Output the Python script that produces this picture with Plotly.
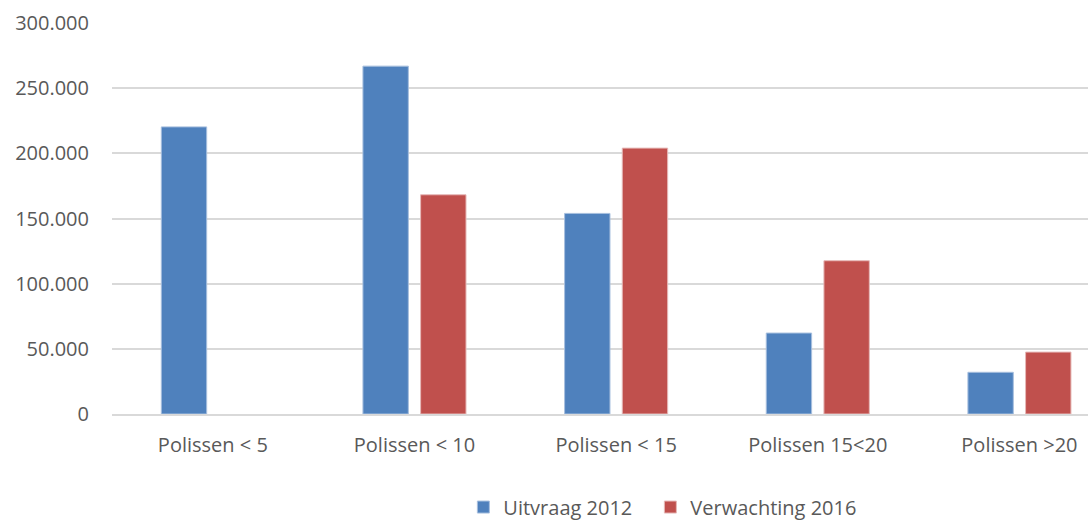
import plotly.graph_objects as go

categories = ["Polissen < 5", "Polissen < 10", "Polissen < 15", "Polissen 15<20", "Polissen >20"]
uitvraag_2012 = [220300, 266900, 153900, 62100, 32000]
verwachting_2016 = [None, 168200, 204000, 117600, 47500]
series_names = ["Uitvraag 2012", "Verwachting 2016"]
y_ticks = [0, 50000, 100000, 150000, 200000, 250000, 300000]

BLUE = "#4F81BD"
RED = "#C0504D"
TXT = "#595959"
FONT = "Open Sans, Liberation Sans, sans-serif"

fig = go.Figure()
fig.add_trace(go.Bar(x=categories, y=uitvraag_2012, name=series_names[0], legend="legend",
                     marker=dict(color=BLUE, line=dict(color="#A7BFDE", width=1))))
fig.add_trace(go.Bar(x=categories, y=verwachting_2016, name=series_names[1], legend="legend2",
                     marker=dict(color=RED, line=dict(color="#E6B9B8", width=1))))

leg_common = dict(orientation="h", y=-0.238, xanchor="left", yanchor="middle",
                  font=dict(size=20, color=TXT), itemwidth=30, bgcolor="rgba(0,0,0,0)")

fig.update_layout(
    width=1088, height=526,
    margin=dict(l=112, r=0, t=23, b=112, autoexpand=False),
    paper_bgcolor="white", plot_bgcolor="white",
    separators=",.",
    barmode="group", bargap=0.428, bargroupgap=0.213,
    font=dict(family=FONT, size=20, color=TXT),
    legend=dict(x=0.36, **leg_common),
    legend2=dict(x=0.5516, **leg_common),
    showlegend=True,
)
fig.update_xaxes(range=[-0.5, 4.34], showgrid=False, showline=True, linecolor="#D9D9D9",
                 linewidth=2, ticks="outside", ticklen=12, tickcolor="rgba(0,0,0,0)",
                 tickfont=dict(size=20, color=TXT), fixedrange=True, automargin=False)
fig.update_yaxes(range=[0, 300000], tickvals=y_ticks, tickformat=",d", showgrid=True,
                 gridcolor="#D9D9D9", gridwidth=2, zeroline=False, showline=False,
                 ticks="outside", ticklen=18, tickcolor="rgba(0,0,0,0)",
                 tickfont=dict(size=20, color=TXT), fixedrange=True, automargin=False)

fig.write_html("out.html", config={"displayModeBar": False},
               post_script="document.body.style.margin='0';document.body.style.overflow='hidden';")
